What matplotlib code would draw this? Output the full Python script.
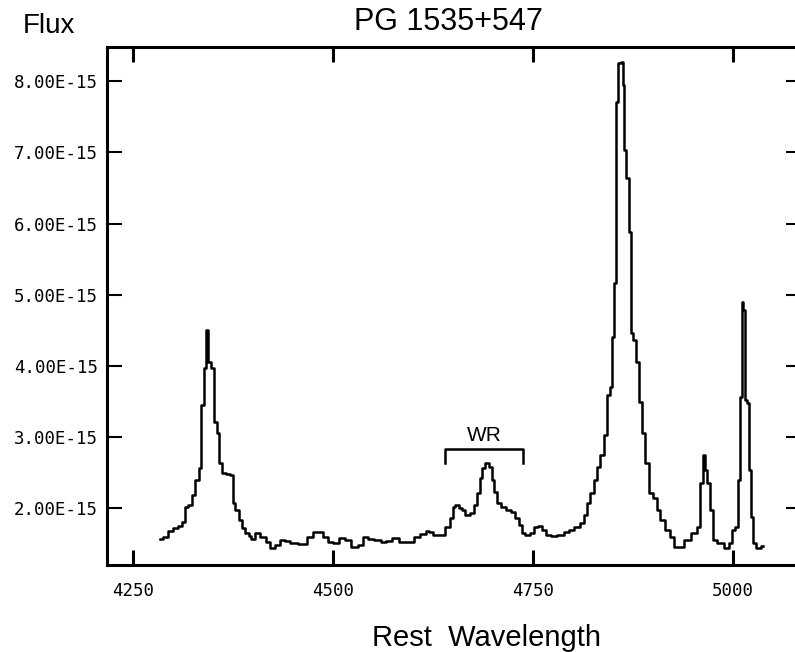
import matplotlib.pyplot as plt
from matplotlib.ticker import FuncFormatter

# rest wavelength (A) and flux (units of 1e-15)
wavelength = [
    4283.8, 4290.0, 4296.3, 4302.5, 4308.8, 4312.5, 4316.3, 4321.3, 4325.0, 4330.0,
    4333.8, 4336.3, 4340.0, 4342.5, 4345.0, 4350.0, 4352.5, 4356.3, 4358.8, 4362.5,
    4368.8, 4373.8, 4375.0, 4380.0, 4383.8, 4387.5, 4392.5, 4396.3, 4398.8, 4405.0,
    4412.5, 4418.8, 4423.8, 4430.0, 4436.3, 4442.5, 4450.0, 4462.5, 4471.3, 4477.5,
    4483.8, 4490.0, 4496.3, 4502.5, 4511.3, 4517.5, 4527.5, 4533.8, 4540.0, 4546.3,
    4556.3, 4562.5, 4568.8, 4577.5, 4586.3, 4596.3, 4605.0, 4612.5, 4618.8, 4621.3,
    4627.5, 4636.3, 4642.5, 4648.8, 4650.0, 4655.0, 4658.8, 4662.5, 4667.5, 4673.8,
    4677.5, 4681.3, 4685.0, 4687.5, 4692.5, 4696.3, 4700.0, 4702.5, 4706.3, 4712.5,
    4718.8, 4725.0, 4730.0, 4733.8, 4737.5, 4742.5, 4748.8, 4752.5, 4758.8, 4762.5,
    4768.8, 4775.0, 4783.8, 4792.5, 4796.3, 4805.0, 4811.3, 4815.0, 4818.8, 4823.8,
    4827.5, 4831.3, 4836.3, 4840.0, 4843.8, 4847.5, 4850.0, 4852.5, 4853.8, 4857.5,
    4861.3, 4862.5, 4865.0, 4867.5, 4871.3, 4872.5, 4877.5, 4880.0, 4883.8, 4887.5,
    4892.5, 4897.5, 4902.5, 4906.3, 4911.3, 4917.5, 4923.8, 4927.5, 4933.8, 4942.5,
    4952.5, 4956.3, 4961.3, 4963.8, 4966.3, 4968.8, 4973.8, 4975.0, 4983.8, 4992.5,
    4996.3, 5000.0, 5005.0, 5006.3, 5010.0, 5011.3, 5013.8, 5016.3, 5018.8, 5021.3,
    5023.8, 5026.3, 5031.3, 5037.5,
]
flux = [
    1.57, 1.60, 1.68, 1.73, 1.75, 1.81, 2.02, 2.05, 2.19, 2.40,
    2.57, 3.45, 3.97, 4.51, 4.06, 3.97, 3.21, 3.06, 2.64, 2.50,
    2.48, 2.47, 2.08, 1.98, 1.84, 1.73, 1.66, 1.61, 1.57, 1.66,
    1.60, 1.53, 1.45, 1.49, 1.56, 1.54, 1.52, 1.50, 1.60, 1.67,
    1.67, 1.60, 1.53, 1.52, 1.59, 1.56, 1.46, 1.49, 1.60, 1.57,
    1.56, 1.53, 1.54, 1.59, 1.53, 1.53, 1.60, 1.64, 1.68, 1.67,
    1.63, 1.63, 1.74, 1.87, 2.02, 2.05, 2.01, 1.98, 1.91, 1.94,
    2.05, 2.22, 2.43, 2.57, 2.64, 2.58, 2.40, 2.23, 2.08, 2.02,
    1.98, 1.95, 1.87, 1.77, 1.66, 1.63, 1.66, 1.74, 1.75, 1.70,
    1.63, 1.61, 1.63, 1.67, 1.70, 1.74, 1.80, 1.91, 2.08, 2.22,
    2.40, 2.58, 2.75, 3.03, 3.59, 3.71, 4.41, 5.17, 7.71, 8.26,
    8.27, 7.95, 7.03, 6.64, 5.88, 4.46, 4.37, 4.06, 3.50, 3.06,
    2.64, 2.22, 2.15, 1.98, 1.84, 1.70, 1.60, 1.46, 1.46, 1.56,
    1.66, 1.74, 2.36, 2.75, 2.54, 2.36, 1.98, 1.56, 1.52, 1.45,
    1.52, 1.70, 1.74, 2.40, 3.57, 4.90, 4.79, 3.52, 3.48, 2.54,
    1.88, 1.52, 1.45, 1.47,
]
flux = [f * 1e-15 for f in flux]

x_ticks = [4250, 4500, 4750, 5000]
y_ticks = [2e-15, 3e-15, 4e-15, 5e-15, 6e-15, 7e-15, 8e-15]

# WR bump bracket
wr_lo, wr_hi = 4640, 4737.5
wr_top, wr_bot = 2.84e-15, 2.64e-15
wr_label_y = 2.95e-15

fig = plt.figure(figsize=(7.95, 6.52), dpi=100)
ax = fig.add_axes([0.1346, 0.1334, 0.868, 0.7945])

ax.plot(wavelength, flux, color="black", lw=1.8, drawstyle="steps-mid")

ax.plot([wr_lo, wr_lo, wr_hi, wr_hi], [wr_bot, wr_top, wr_top, wr_bot],
        color="black", lw=1.8)
ax.text((wr_lo + wr_hi) / 2, wr_label_y, "WR", ha="center", va="baseline",
        fontsize=15, family="Liberation Sans")

ax.set_xlim(4217.5, 5080)
ax.set_ylim(1.206e-15, 8.48e-15)
ax.set_xticks(x_ticks)
ax.set_yticks(y_ticks)
ax.yaxis.set_major_formatter(FuncFormatter(lambda v, p: f"{v:.2E}"))

for s in ax.spines.values():
    s.set_linewidth(2.2)

ax.tick_params(axis="x", direction="in", length=11, width=2.2, top=True,
               pad=12, labelsize=12.5)
ax.tick_params(axis="y", direction="in", length=11, width=1.5, right=True,
               pad=6.5, labelsize=12.5)
for lab in ax.get_xticklabels() + ax.get_yticklabels():
    lab.set_family("DejaVu Sans Mono")
for t in ax.yaxis.get_major_ticks():
    t.tick2line.set_markersize(8)

fig.text(23 / 795, 1 - 33 / 652, "Flux", fontsize=20, family="Liberation Sans",
         ha="left", va="baseline")
fig.text(448 / 795, 1 - 30 / 652, "PG 1535+547", fontsize=22,
         family="Liberation Sans", ha="center", va="baseline")
fig.text(487 / 795, 1 - 646 / 652, "Rest  Wavelength", fontsize=21,
         family="Liberation Sans", ha="center", va="baseline")

fig.savefig("out.png", dpi=100)
plt.close(fig)
